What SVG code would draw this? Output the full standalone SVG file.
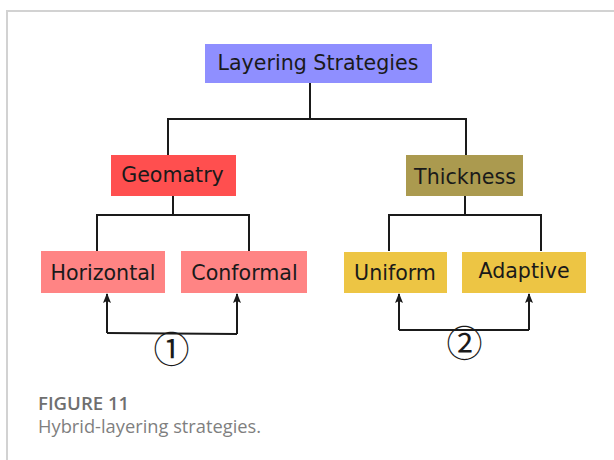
<svg xmlns="http://www.w3.org/2000/svg" width="614" height="460" viewBox="0 0 614 460">
  <style>
    .lbl { font-family: "DejaVu Sans", Verdana, sans-serif; font-size: 20.6px; fill: #1a1a1a; text-anchor: middle; }
    .wire { fill: none; stroke: #1a1a1a; stroke-width: 2; }
    .num { font-family: "Noto Sans CJK JP", "DejaVu Sans", sans-serif; font-weight: 400; font-size: 36px; fill: #1a1a1a; text-anchor: middle; }
    .cap { font-family: "Open Sans", "Noto Sans", sans-serif; }
  </style>
  <defs>
    <marker id="arrow" viewBox="0 0 10 10" refX="9" refY="5" markerWidth="10" markerHeight="10" markerUnits="userSpaceOnUse" orient="auto">
      <path d="M0,1 L10,5 L0,9 L2,5 Z" fill="#1a1a1a"/>
    </marker>
  </defs>

  <rect width="614" height="460" fill="#ffffff"/>
  <!-- panel frame -->
  <path d="M7,460 V11 H614" fill="none" stroke="#d2d2d2" stroke-width="2"/>

  <g id="connectors">
    <!-- root to categories -->
    <path class="wire" d="M310,83 V119 M168,155 V119 H466 V155"/>
    <!-- Geometry branches -->
    <path class="wire" d="M173,196 V215 M97,251 V215 H249 V251"/>
    <!-- Thickness branches -->
    <path class="wire" d="M465,196 V215 M389,251 V215 H541 V251"/>
    <!-- hybrid pair 1 -->
    <path class="wire" d="M107,333 V294" marker-end="url(#arrow)"/>
    <path class="wire" d="M237,334 V294" marker-end="url(#arrow)"/>
    <path class="wire" d="M107,333 L237,334"/>
    <!-- hybrid pair 2 -->
    <path class="wire" d="M399,330 V294" marker-end="url(#arrow)"/>
    <path class="wire" d="M529,330 V294" marker-end="url(#arrow)"/>
    <path class="wire" d="M399,330 H529"/>
  </g>

  <g id="layering-strategies">
    <rect x="205" y="44" width="227" height="39" fill="#8f8fff"/>
    <text class="lbl" x="318" y="69.5">Layering Strategies</text>
  </g>
  <g id="geometry">
    <rect x="111" y="155" width="125" height="41" fill="#ff4f4f"/>
    <text class="lbl" x="172.5" y="181.5">Geomatry</text>
  </g>
  <g id="thickness">
    <rect x="406" y="155" width="117" height="41" fill="#ab9a4f"/>
    <text class="lbl" x="465" y="183.5">Thickness</text>
  </g>
  <g id="horizontal">
    <rect x="41" y="251" width="124" height="42" fill="#ff8484"/>
    <text class="lbl" x="103" y="279.5">Horizontal</text>
  </g>
  <g id="conformal">
    <rect x="181" y="251" width="126" height="42" fill="#ff8484"/>
    <text class="lbl" x="244.5" y="279.5">Conformal</text>
  </g>
  <g id="uniform">
    <rect x="344" y="252" width="103" height="41" fill="#edc544"/>
    <text class="lbl" x="395" y="280">Uniform</text>
  </g>
  <g id="adaptive">
    <rect x="462" y="252" width="124" height="41" fill="#edc544"/>
    <text class="lbl" x="524" y="277.5">Adaptive</text>
  </g>

  <g id="mark-1">
    <text class="num" x="171.5" y="363">①</text>
  </g>
  <g id="mark-2">
    <text class="num" x="464.5" y="357">②</text>
  </g>

  <g id="caption" class="cap">
    <text x="38" y="410" font-size="18.6" font-weight="600" fill="#6f6f6f">FIGURE 11</text>
    <text x="38" y="433" font-size="18.3" fill="#7f7f7f">Hybrid-layering strategies.</text>
  </g>
</svg>
